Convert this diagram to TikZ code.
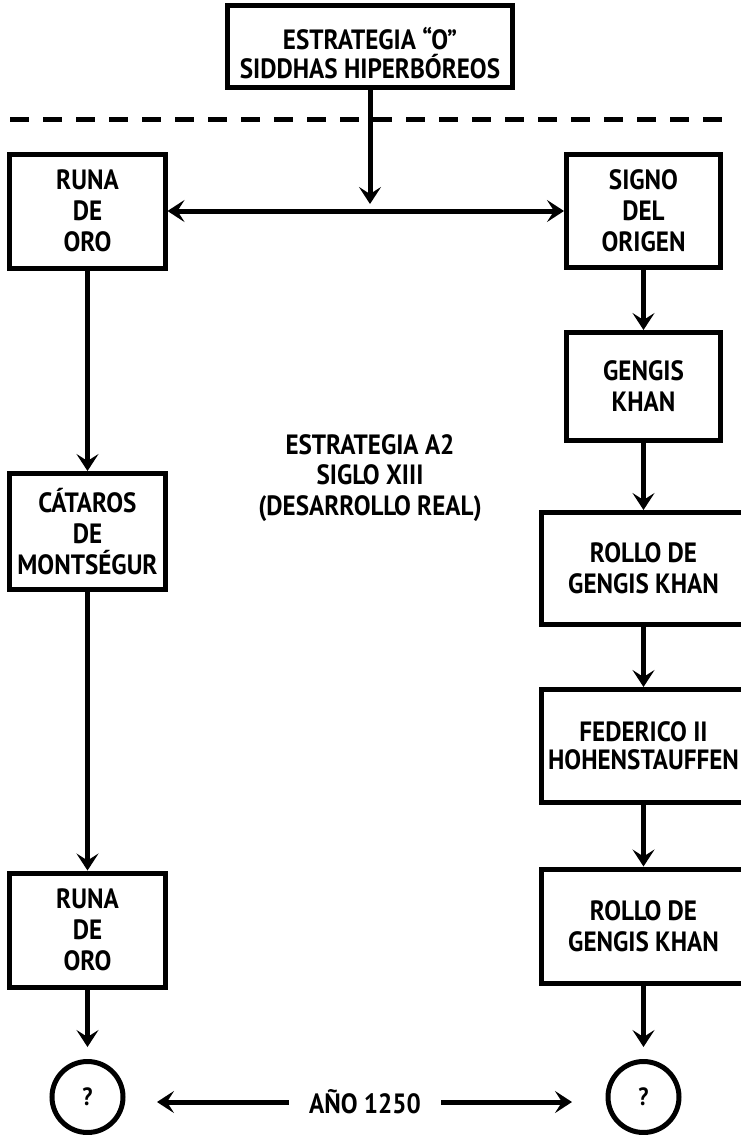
\documentclass[tikz,border=0pt]{standalone}
\usepackage{fontspec}
\setmainfont{PT Sans}[FakeStretch=0.9]
\usetikzlibrary{arrows.meta}
\begin{document}
\begin{tikzpicture}[x=1bp,y=-1bp,
  lbl/.style={font=\bfseries\fontsize{28}{31}\selectfont, align=center, text=black, inner sep=0pt},
  box/.style={lbl, draw=black, line width=5bp},
  lbox/.style={box, minimum width=155bp},
  rbox/.style={box, minimum width=154bp},
  wbox/.style={box, minimum width=205bp},
  circ/.style={draw=black, line width=5bp, circle, minimum size=71bp, inner sep=0pt,
               font=\bfseries\fontsize{25}{28}\selectfont},
  conn/.style={draw=black, line width=5bp, -{Stealth[length=17bp,width=22bp,inset=7bp]}},
  dconn/.style={draw=black, line width=5bp, {Stealth[length=17bp,width=22bp,inset=7bp]}-{Stealth[length=17bp,width=22bp,inset=7bp]}},
  sep/.style={draw=black, line width=5bp, dash pattern=on 19bp off 14bp}
]
\useasboundingbox (0,0) rectangle (741,1135);
\clip (0,0) rectangle (741,1135);

% top
\node[box, minimum width=285bp, minimum height=82bp] (top) at (370,46.5) {};
\node[lbl, font=\bfseries\fontsize{28}{29}\selectfont] (toptext) at (370,53) {ESTRATEGIA “O”\\SIDDHAS HIPERBÓREOS};
\coordinate (dashL) at (10,119);
\coordinate (dashR) at (733,119);
\draw[sep] (dashL) -- (dashR);

% left column
\node[lbox, minimum height=114bp] (runa1) at (87.5,211) {RUNA\\DE\\ORO};
\node[lbox, minimum height=116bp] (cataros) at (87.5,531.5) {CÁTAROS\\DE\\MONTSÉGUR};
\node[lbox, minimum height=114bp] (runa2) at (87.5,930) {RUNA\\DE\\ORO};
\node[circ] (q1) at (87.5,1097) {?};

% right column
\node[rbox, minimum height=113bp] (signo) at (643.5,211) {SIGNO\\DEL\\ORIGEN};
\node[rbox, minimum height=108bp] (gengis) at (643.5,386.5) {GENGIS\\KHAN};
\node[wbox, minimum height=112bp] (rollo1) at (643.5,568.5) {ROLLO DE\\GENGIS KHAN};
\node[wbox, minimum height=113bp, font=\bfseries\fontsize{28}{28}\selectfont] (federico) at (643.5,746) {FEDERICO II\\HOHENSTAUFFEN};
\node[wbox, minimum height=114bp] (rollo2) at (643.5,926) {ROLLO DE\\GENGIS KHAN};
\node[circ] (q2) at (643.5,1097) {?};

% middle label
\node[lbl] (estrat) at (370,478) {ESTRATEGIA A2\\SIGLO XIII\\(DESARROLLO REAL)};

% bottom label
\node[lbl, inner xsep=20bp] (ano) at (365,1102) {AÑO 1250};
\coordinate (tipL) at (157,1102);
\coordinate (tipR) at (572,1102);

% connectors
\coordinate (tee) at (370,204);
\draw[conn] (top.south) -- (tee);
\draw[dconn] (runa1.east) -- (signo.west);
\draw[conn] (runa1.south) -- (cataros.north);
\draw[conn] (cataros.south) -- (runa2.north);
\draw[conn, shorten >=12bp] (runa2.south) -- (q1.north);
\draw[conn] (signo.south) -- (gengis.north);
\draw[conn] (gengis.south) -- (rollo1.north);
\draw[conn] (rollo1.south) -- (federico.north);
\draw[conn] (federico.south) -- (rollo2.north);
\draw[conn, shorten >=12bp] (rollo2.south) -- (q2.north);
\draw[conn] (ano.west) -- (ano.west -| tipL);
\draw[conn] (ano.east) -- (ano.east -| tipR);
\end{tikzpicture}
\end{document}
